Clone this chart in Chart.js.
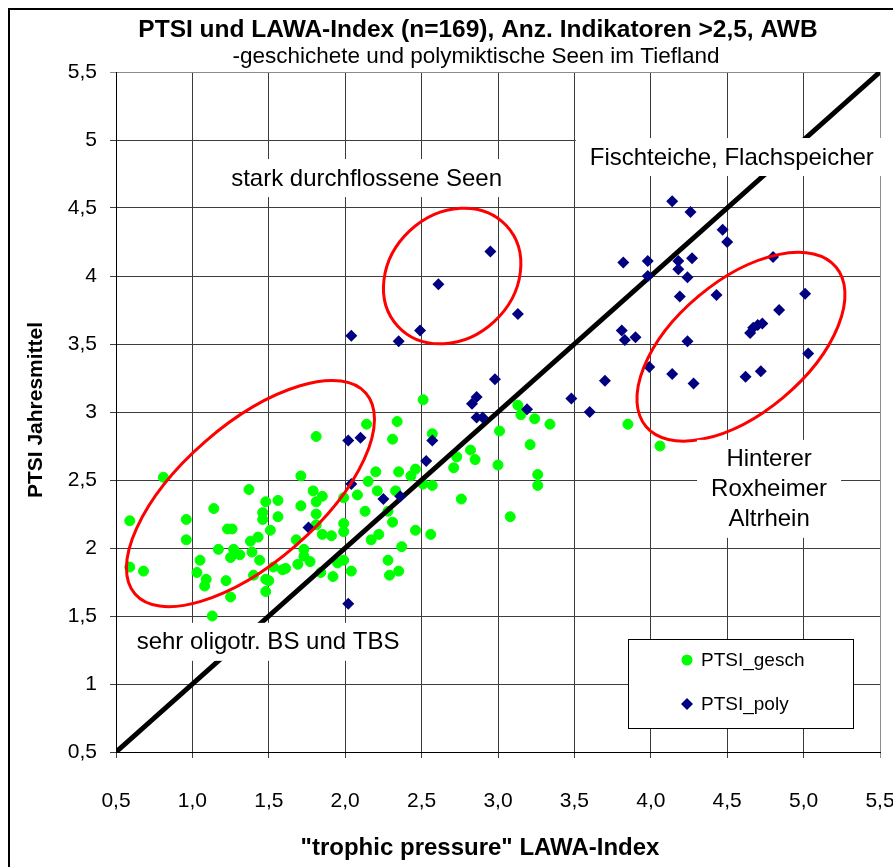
<!DOCTYPE html>
<html>
<head>
<meta charset="utf-8">
<script src="https://cdn.jsdelivr.net/npm/chart.js@4.4.1/dist/chart.umd.min.js"></script>
<style>
  html, body { margin: 0; padding: 0; background: #fff; }
  #wrap { width: 893px; height: 867px; position: relative; }
</style>
</head>
<body>
<div id="wrap"><canvas id="chart"></canvas></div>
<script>
const FONT = "'Liberation Sans', Arial, sans-serif";

const chartTitle = "PTSI und LAWA-Index (n=169), Anz. Indikatoren >2,5, AWB";
const chartSubtitle = "-geschichete und polymiktische Seen im Tiefland";
const xTitle = '"trophic pressure" LAWA-Index';
const yTitle = "PTSI Jahresmittel";

// PTSI_gesch (green circles)
const geschX = [0.81, 0.59, 0.59, 0.68, 0.96, 0.96, 1.37, 1.14, 1.48, 1.56, 1.46, 1.46, 1.56, 1.23, 1.26,
  1.51, 1.43, 1.38, 1.17, 1.27, 1.25, 1.31, 1.39, 1.44, 1.05, 1.03, 1.09, 1.08, 1.22, 1.25,
  1.40, 1.48, 1.50, 1.48, 1.53, 1.59, 1.61, 1.68, 1.69, 1.71, 1.71, 1.13,
  2.51, 2.14, 2.34, 1.81, 2.31, 2.57, 2.82, 2.73, 2.71, 2.85, 2.20, 2.35, 2.46, 2.43, 2.15,
  2.51, 2.57, 1.79, 1.85, 1.99, 2.08, 2.21, 2.33, 1.81, 1.81, 2.13, 2.28, 2.31, 2.76, 1.99,
  1.99, 1.81, 1.85, 1.91, 2.17, 2.22, 2.46, 2.56, 2.37, 1.73, 1.73, 1.77, 1.84, 1.92, 1.95,
  1.99, 2.04, 2.28, 2.29, 2.35,
  3.13, 3.15, 3.24, 3.34, 3.01, 3.21, 3.85, 3.00, 3.26, 3.26, 3.08, 4.06];
const geschY = [2.52, 2.20, 1.86, 1.83, 2.21, 2.06, 2.43, 2.29, 2.34, 2.35, 2.26, 2.21, 2.23, 2.14, 2.14,
  2.13, 2.08, 2.05, 1.99, 1.99, 1.93, 1.95, 1.97, 1.91, 1.91, 1.82, 1.77, 1.72, 1.76, 1.64,
  1.80, 1.77, 1.76, 1.68, 1.86, 1.84, 1.85, 2.06, 1.88, 2.53, 2.31, 1.50,
  3.09, 2.91, 2.93, 2.82, 2.80, 2.84, 2.72, 2.67, 2.59, 2.65, 2.56, 2.56, 2.58, 2.53, 2.49,
  2.47, 2.46, 2.42, 2.38, 2.37, 2.39, 2.42, 2.42, 2.34, 2.25, 2.27, 2.27, 2.19, 2.36, 2.18,
  2.12, 2.17, 2.10, 2.09, 2.06, 2.10, 2.13, 2.10, 2.01, 1.99, 1.94, 1.90, 1.82, 1.79, 1.89,
  1.91, 1.83, 1.91, 1.80, 1.83,
  3.05, 2.98, 2.95, 2.91, 2.86, 2.76, 2.91, 2.61, 2.54, 2.46, 2.23, 2.75];

// PTSI_poly (navy diamonds)
const polyX = [2.02, 2.10, 2.57, 2.83, 2.86, 2.86, 2.90, 2.53, 2.04, 2.25, 2.36, 1.76, 2.02,
  2.95, 3.13, 3.82, 3.98, 3.98, 3.81, 3.83, 3.90, 3.99, 3.70, 2.98, 3.48, 3.60, 3.19,
  4.14, 4.26, 4.47, 4.50, 4.18, 4.18, 4.27, 4.24, 4.80, 4.19, 4.43, 5.01, 4.84,
  4.65, 4.67, 4.70, 4.73, 4.24, 5.03, 4.14, 4.28, 4.62, 4.72, 4.37,
  2.61, 2.04, 2.35, 2.49];
const polyY = [2.79, 2.81, 2.79, 3.06, 3.11, 2.96, 2.96, 2.64, 2.47, 2.36, 2.38, 2.15, 1.59,
  4.18, 3.72, 4.10, 4.11, 4.00, 3.60, 3.53, 3.55, 3.33, 3.23, 3.24, 3.10, 3.00, 3.02,
  4.55, 4.47, 4.34, 4.25, 4.11, 4.05, 4.13, 3.99, 4.14, 3.85, 3.86, 3.87, 3.75,
  3.58, 3.62, 3.64, 3.65, 3.52, 3.43, 3.28, 3.21, 3.26, 3.30, 2.68,
  3.94, 3.56, 3.52, 3.60];

// 1:1 line
const diagX = [0.5, 5.5];
const diagY = [0.5, 5.5];

// red ellipses: centre in data units
const ellipseCx = [1.38, 2.70, 4.59];
const ellipseCy = [2.40, 4.00, 3.48];

// text boxes: centre in data units
const noteText = [["stark durchflossene Seen"], ["Fischteiche, Flachspeicher"],
  ["sehr oligotr. BS und TBS"], ["Hinterer", "Roxheimer", "Altrhein"]];
const noteX = [2.14, 4.53, 1.495, 4.774];
const noteY = [4.72, 4.875, 1.31, 2.435];

const toPts = (xs, ys) => xs.map((x, i) => ({ x: x, y: ys[i] }));
const fmtY = v => String(+v.toFixed(1)).replace('.', ',');
const fmtX = v => v.toFixed(1).replace('.', ',');

const ellipseShape = [
  { a: 153, b: 69, rot: -41 },
  { a: 74, b: 62, rot: -43 },
  { a: 124, b: 66, rot: -40 }
];

const decor = {
  id: 'decor',
  beforeDraw(chart) {
    const ctx = chart.ctx;
    ctx.save();
    ctx.fillStyle = '#fff';
    ctx.fillRect(0, 0, chart.width, chart.height);
    ctx.strokeStyle = '#000';
    ctx.lineWidth = 2;
    ctx.beginPath();
    ctx.moveTo(9, chart.height);
    ctx.lineTo(9, 9);
    ctx.lineTo(chart.width, 9);
    ctx.stroke();
    ctx.restore();
  },
  afterDraw(chart) {
    const ctx = chart.ctx;
    const xs = chart.scales.x, ys = chart.scales.y;
    ctx.save();

    // ellipses
    ctx.strokeStyle = '#ff0000';
    ctx.lineWidth = 3;
    ellipseShape.forEach((e, i) => {
      ctx.beginPath();
      ctx.ellipse(xs.getPixelForValue(ellipseCx[i]), ys.getPixelForValue(ellipseCy[i]),
        e.a, e.b, e.rot * Math.PI / 180, 0, Math.PI * 2);
      ctx.stroke();
    });

    // text boxes
    ctx.font = '24px ' + FONT;
    ctx.textAlign = 'center';
    ctx.textBaseline = 'middle';
    noteText.forEach((lines, i) => {
      const cx = xs.getPixelForValue(noteX[i]);
      const cy = ys.getPixelForValue(noteY[i]);
      const w = Math.max(...lines.map(l => ctx.measureText(l).width));
      const lh = 30;
      const h = lines.length * lh + 8;
      ctx.fillStyle = '#fff';
      ctx.fillRect(cx - w / 2 - 14, cy - h / 2, w + 28, h);
      ctx.fillStyle = '#000';
      lines.forEach((l, k) => {
        ctx.fillText(l, cx, cy - (lines.length - 1) * lh / 2 + k * lh + 1);
      });
    });

    // legend
    const lx = 628.5, ly = 639.5, lw = 225, lhgt = 89;
    ctx.fillStyle = '#fff';
    ctx.fillRect(lx, ly, lw, lhgt);
    ctx.strokeStyle = '#000';
    ctx.lineWidth = 1;
    ctx.strokeRect(lx, ly, lw, lhgt);
    ctx.font = '19px ' + FONT;
    ctx.textAlign = 'left';
    const items = chart.data.datasets.filter(d => d.label).sort((a, b) => a.legendIndex - b.legendIndex);
    items.forEach((d, k) => {
      const my = 660 + k * 44, mx = 687;
      ctx.fillStyle = d.backgroundColor;
      ctx.beginPath();
      if (d.pointStyle === 'rectRot') {
        ctx.moveTo(mx, my - 6); ctx.lineTo(mx + 6, my); ctx.lineTo(mx, my + 6); ctx.lineTo(mx - 6, my);
        ctx.closePath();
      } else {
        ctx.arc(mx, my, 5.5, 0, Math.PI * 2);
      }
      ctx.fill();
      ctx.fillStyle = '#000';
      ctx.fillText(d.label, 701, my + 1);
    });

    // titles
    ctx.textAlign = 'center';
    ctx.fillStyle = '#000';
    ctx.font = 'bold 24.5px ' + FONT;
    ctx.fillText(chartTitle, 478, 30);
    ctx.font = '22.5px ' + FONT;
    ctx.fillText(chartSubtitle, 476, 57);
    ctx.font = 'bold 24px ' + FONT;
    ctx.fillText(xTitle, 480, 848);
    ctx.font = 'bold 21px ' + FONT;
    ctx.save();
    ctx.translate(36, 410);
    ctx.rotate(-Math.PI / 2);
    ctx.fillText(yTitle, 0, 0);
    ctx.restore();

    ctx.restore();
  }
};

const gridColor = c => (c.tick && Math.abs(c.tick.value - 5.5) < 1e-6) ? '#8c8c8c' : '#3c3c3c';

new Chart(document.getElementById('chart'), {
  type: 'scatter',
  data: {
    datasets: [
      {
        label: 'PTSI_poly',
        legendIndex: 1,
        data: toPts(polyX, polyY),
        pointStyle: 'rectRot',
        pointRadius: 6,
        borderWidth: 0,
        backgroundColor: '#000080',
        borderColor: '#000080',
        order: 0
      },
      {
        data: toPts(diagX, diagY),
        type: 'line',
        showLine: true,
        borderColor: '#000',
        borderWidth: 5,
        pointRadius: 0,
        order: 1
      },
      {
        label: 'PTSI_gesch',
        legendIndex: 0,
        data: toPts(geschX, geschY),
        pointStyle: 'circle',
        pointRadius: 5,
        borderWidth: 1,
        backgroundColor: '#00ff00',
        borderColor: '#00ff00',
        order: 2
      }
    ]
  },
  options: {
    responsive: true,
    maintainAspectRatio: false,
    animation: false,
    layout: { padding: { left: 16, right: 13, top: 72, bottom: 8 } },
    plugins: {
      legend: { display: false },
      tooltip: { enabled: false },
      title: { display: false }
    },
    scales: {
      x: {
        type: 'linear',
        min: 0.5,
        max: 5.5,
        ticks: { stepSize: 0.5, padding: 31, color: '#000', font: { family: FONT, size: 21 }, callback: fmtX },
        grid: { color: gridColor, lineWidth: 1, tickLength: 6 },
        border: { color: '#000', width: 1 },
        afterFit(s) { s.height = 107; s.paddingLeft = 0; s.paddingRight = 0; }
      },
      y: {
        type: 'linear',
        min: 0.5,
        max: 5.5,
        ticks: { stepSize: 0.5, padding: 13, color: '#000', font: { family: FONT, size: 21 }, callback: fmtY },
        grid: { color: gridColor, lineWidth: 1, tickLength: 6 },
        border: { color: '#000', width: 1 },
        afterFit(s) { s.width = 100; s.paddingTop = 0; s.paddingBottom = 0; }
      }
    }
  },
  plugins: [decor]
});
</script>
</body>
</html>
